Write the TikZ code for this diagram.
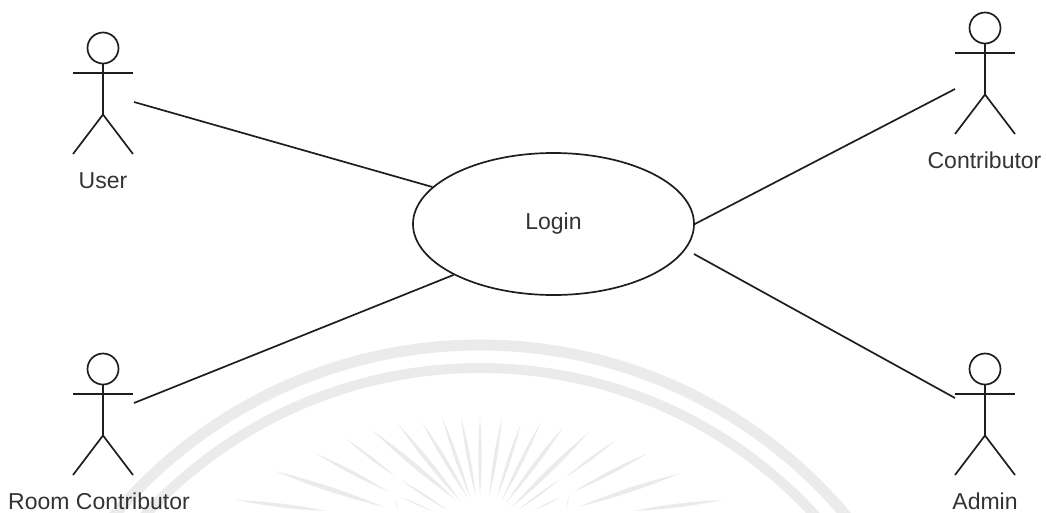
\documentclass[tikz,border=0pt]{standalone}
\usepackage{fontspec}
\setmainfont{Liberation Sans}
\usetikzlibrary{shapes.geometric}
\definecolor{wm}{HTML}{EBEBEB}
\definecolor{ink}{HTML}{1E1E1E}
\definecolor{txt}{HTML}{333333}
\tikzset{
  wmarc/.style={draw=wm},
  wmray/.style={fill=wm},
  line/.style={draw=ink,line width=1.7pt},
  usecase/.style={ellipse,draw=ink,line width=1.7pt,minimum width=281pt,minimum height=142pt,inner sep=0pt,text=txt,font=\fontsize{23}{26}\selectfont},
  lbl/.style={text=txt,font=\fontsize{23}{26}\selectfont,inner sep=0pt,anchor=base},
  actor/.pic={
    \draw[line] (0,-20) circle[radius=15.5];
    \draw[line] (0,-4.5) -- (0,46.5);
    \draw[line] (-30,5) -- (30,5);
    \draw[line] (-30,86) -- (0,46.5) -- (30,86);
  }
}
\begin{document}
\begin{tikzpicture}[x=1pt,y=-1pt]
\useasboundingbox (0,0) rectangle (1046,512);
\begin{scope}
\clip (0,0) rectangle (1046,512);
% watermark
\draw[wmarc,line width=11pt] (480,823) circle[radius=478];
\draw[wmarc,line width=10pt] (480,823) circle[radius=455];
\foreach \tx/\ty/\bx/\by in {
 480/417/480/497, 461/417/476/497, 502/417/489/497, 442/417/470/497, 521/423/497/497,
 422/422/468/498, 541/422/502/500, 398/424/461/502, 564/426/506/503, 372/430/456/500,
 589/432/511/508, 345/438/396/477, 616/440/566/477, 315/453/389/492, 648/453/573/492,
 275/471/384/507, 681/473/578/507, 236/500/327/511, 722/500/633/511,
 401/480/447/510, 559/480/518/510, 401/497/432/511, 561/497/533/511,
 394/497/399/511, 569/495/566/511}
  \fill[wmray] (\tx,\ty) to[bend left=4] (\bx,\by) to[bend left=4] (\tx,\ty);
\end{scope}
% use case
\node[usecase] (login) at (553.5,224) {Login};
% actors
\pic at (103,68) {actor};
\pic at (985,48) {actor};
\pic at (103,389) {actor};
\pic at (985,389) {actor};
\node[lbl] (user) at (103,188) {User};
\node[lbl] (contrib) at (984.5,168) {Contributor};
\node[lbl] (room) at (99,509) {Room Contributor};
\node[lbl] (admin) at (985,509) {Admin};
% connector ends
\coordinate (userport) at (134,102);
\coordinate (contribport) at (955,89);
\coordinate (roomport) at (134,403);
\coordinate (adminport) at (955,398);
\coordinate (loginadmin) at (694,254);
\draw[line] (userport) -- (login.163.5);
\draw[line] (contribport) -- (login.east);
\draw[line] (roomport) -- (login.207);
\draw[line] (adminport) -- (loginadmin);
\end{tikzpicture}
\end{document}
